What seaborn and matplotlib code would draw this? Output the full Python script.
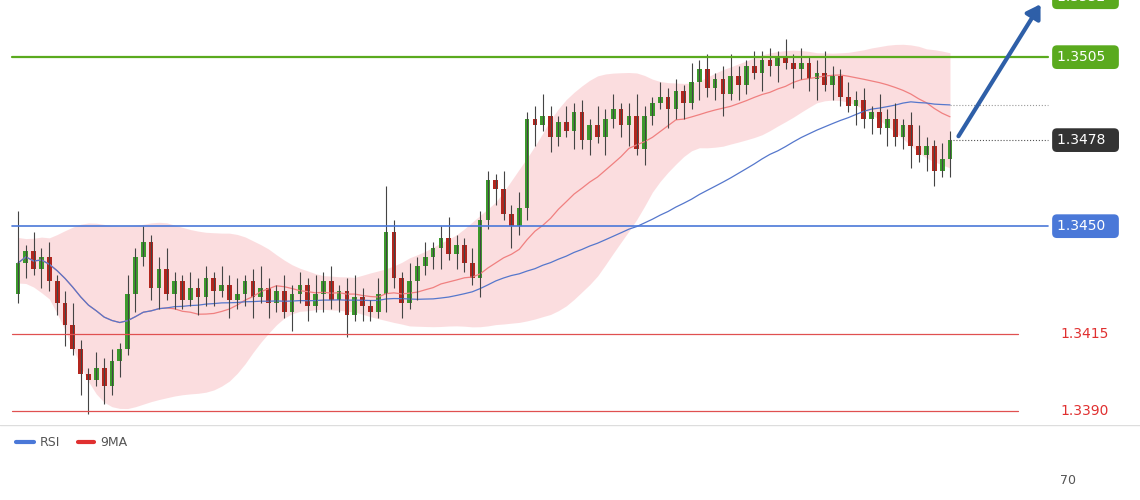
import numpy as np
import pandas as pd
import matplotlib
matplotlib.use("Agg")
import matplotlib.pyplot as plt
import seaborn as sns

sns.set_style("white")
plt.rcParams['font.family'] = ['DejaVu Sans']

# closes (one per candle)
closes = [1.3438, 1.3442, 1.3436, 1.3440, 1.3432, 1.3425, 1.3418, 1.3410, 1.3402, 1.3400,
          1.3404, 1.3398, 1.3406, 1.3410, 1.3428, 1.3440, 1.3445,
          1.3430, 1.3436, 1.3428, 1.3432, 1.3426, 1.3430, 1.3427, 1.3433, 1.3429, 1.3431, 1.3426, 1.3428, 1.3432, 1.3427,
          1.3430, 1.3425, 1.3429, 1.3422, 1.3428, 1.3431, 1.3424, 1.3428, 1.3432, 1.3426, 1.3429, 1.3421, 1.3427, 1.3424, 1.3422, 1.3428,
          1.3448, 1.3433, 1.3425, 1.3432, 1.3437, 1.3440, 1.3443, 1.3446, 1.3441, 1.3444, 1.3438, 1.3433, 1.3452, 1.3465,
          1.3462, 1.3454, 1.3450, 1.3456, 1.3485, 1.3483, 1.3486, 1.3479, 1.3484, 1.3481, 1.3487, 1.3478, 1.3483, 1.3479,
          1.3485, 1.3488, 1.3483, 1.3486, 1.3475, 1.3486, 1.3490, 1.3492, 1.3488, 1.3494, 1.3490, 1.3497, 1.3501, 1.3495,
          1.3498, 1.3493, 1.3499, 1.3496, 1.3502, 1.3500, 1.3504, 1.3502, 1.3505, 1.3503, 1.3501, 1.3503, 1.3498, 1.3500,
          1.3496, 1.3499, 1.3492, 1.3489, 1.3491, 1.3485, 1.3487, 1.3482, 1.3485, 1.3479, 1.3483, 1.3476, 1.3473, 1.3476,
          1.3468, 1.3472, 1.3478]
first_open = 1.3428
wick_up = [0.0004, 0.0002, 0.0006, 0.0003, 0.0005, 0.0002, 0.0004, 0.0007, 0.0003, 0.0002, 0.0005, 0.0003]
wick_dn = [0.0003, 0.0005, 0.0002, 0.0006, 0.0003, 0.0004, 0.0007, 0.0002, 0.0005, 0.0003, 0.0002, 0.0006]
big_highs = {0: 1.3455, 47: 1.3463, 60: 1.3468, 100: 1.3508}
big_lows = {9: 1.3389, 8: 1.3395, 117: 1.3463, 63: 1.3443}

levels_green = [1.3505]
levels_blue = [1.3450]
levels_red = [1.3415, 1.3390]

n = len(closes)
df = pd.DataFrame({"close": closes})
df["open"] = [first_open] + closes[:-1]
df["high"] = [max(o, c) + wick_up[i % 12] for i, (o, c) in enumerate(zip(df["open"], df["close"]))]
df["low"] = [min(o, c) - wick_dn[i % 12] for i, (o, c) in enumerate(zip(df["open"], df["close"]))]
for k, v in big_highs.items():
    df.loc[k, "high"] = v
for k, v in big_lows.items():
    df.loc[k, "low"] = v
mid = df["close"].rolling(20, min_periods=1).mean()
sd = df["close"].rolling(20, min_periods=2).std().fillna(0.0008)
upper = (mid + 1.8 * sd).rolling(7, center=True, min_periods=1).mean()
lower = (mid - 1.8 * sd).rolling(7, center=True, min_periods=1).mean()
ma50 = df["close"].rolling(50, min_periods=1).mean()

fig = plt.figure(figsize=(11.4, 5), dpi=100)
ax = fig.add_axes([0, 0.15, 1, 0.85])
dx = 932 / (n - 1)
ax.set_xlim(-18 / dx, (1140 - 18) / dx)
top = 1.35236
ax.set_ylim(top - 425 / 30730, top)
ax.axis("off")
x = np.arange(n)

ax.fill_between(x, lower, upper, color="#fbd5d8", alpha=0.8, lw=0)
ax.plot(x, mid, color="#f08080", lw=0.9)
ax.plot(x, ma50, color="#5577cc", lw=0.9)

up = df["close"] >= df["open"]
for i in range(n):
    col = "#3c9a2c" if up[i] else "#b3261e"
    ax.vlines(i, df["low"][i], df["high"][i], color="#444444", lw=0.8)
    o, c = df["open"][i], df["close"][i]
    ax.bar(i, max(abs(c - o), 0.00006), bottom=min(o, c), width=0.6, color=col, lw=0)

xr = lambda p: p / dx - 18 / dx
for v in levels_green:
    ax.plot([xr(12), xr(1048)], [v, v], color="#5aaa1e", lw=1.6)
for v in levels_blue:
    ax.plot([xr(12), xr(1048)], [v, v], color="#4a78d8", lw=1.2)
for v in levels_red:
    ax.plot([xr(12), xr(1018)], [v, v], color="#e05050", lw=0.9)
ax.plot([n - 1, xr(1048)], [ma50.iloc[-1]] * 2, color="#999999", lw=0.8, ls=":")
ax.plot([n - 1, xr(1048)], [closes[-1]] * 2, color="#555555", lw=0.8, ls=":")

def tag(v, txt, fc, tc="white"):
    ax.text(xr(1057), v, txt, color=tc, fontsize=10, va="center", ha="left",
            bbox=dict(boxstyle="round,pad=0.35", fc=fc, ec="none"))

tag(1.3505, "1.3505  ", "#5aaa1e")
tag(closes[-1], "1.3478  ", "#333333")
tag(1.3450, "1.3450  ", "#4a78d8")
for v in levels_red:
    ax.text(xr(1060), v, f"{v:.4f}", color="#e03030", fontsize=10, va="center")
ax.text(xr(1057), 1.35245, "1.3532  ", color="white", fontsize=10, va="center",
        bbox=dict(boxstyle="round,pad=0.35", fc="#5aaa1e", ec="none"))
ax.annotate("", xy=(xr(1042), 1.35230), xytext=(xr(957), closes[-1] + 0.00005),
            arrowprops=dict(arrowstyle="-|>,head_width=0.5,head_length=0.8", color="#2e5fa8", lw=3))

ax2 = fig.add_axes([0, 0, 1, 0.15])
ax2.set_xlim(0, 1140)
ax2.set_ylim(75, 0)
ax2.axis("off")
ax2.axhline(0, color="#dddddd", lw=1)
ax2.plot([16, 34], [17, 17], color="#4a78d8", lw=3)
ax2.text(40, 17, "RSI", fontsize=9, color="#555555", va="center")
ax2.plot([78, 94], [17, 17], color="#e03030", lw=3)
ax2.text(100, 17, "9MA", fontsize=9, color="#555555", va="center")
ax2.text(1060, 55, "70", fontsize=9, color="#555555", va="center")

fig.savefig("out.png", dpi=100)
